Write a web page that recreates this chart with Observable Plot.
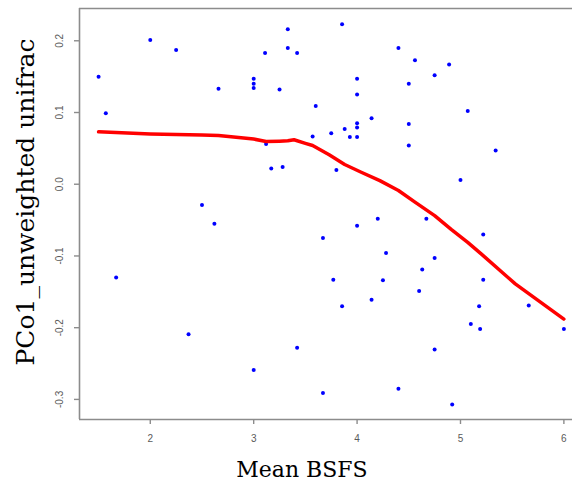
<!DOCTYPE html>
<html>
<head>
<meta charset="utf-8">
<script src="https://cdn.jsdelivr.net/npm/d3@7"></script>
<script src="https://cdn.jsdelivr.net/npm/@observablehq/plot@0.6"></script>
<style>
  html, body { margin: 0; padding: 0; background: #fff; overflow: hidden; }
</style>
</head>
<body>
<div id="chart"></div>
<script>
// Scatter points: Mean BSFS vs PCo1
const bsfs = [1.50,1.57,1.67,2.00,2.25,2.37,2.50,2.62,2.66,3.00,3.00,3.00,3.00,3.11,3.12,3.17,3.25,3.28,3.33,3.33,3.42,3.42,3.57,3.60,3.67,3.67,3.75,3.77,3.80,3.855,3.855,3.88,3.93,4.00,4.00,4.00,4.00,4.00,4.00,4.14,4.14,4.20,4.25,4.28,4.40,4.40,4.50,4.50,4.50,4.56,4.60,4.63,4.67,4.75,4.75,4.75,4.89,4.92,5.00,5.07,5.10,5.18,5.19,5.22,5.22,5.34,5.66,6.00];
const pco1 = [0.150,0.099,-0.130,0.201,0.187,-0.209,-0.029,-0.055,0.133,0.147,0.140,0.134,-0.259,0.183,0.056,0.022,0.132,0.024,0.216,0.190,0.183,-0.228,0.0665,0.109,-0.075,-0.291,0.071,-0.133,0.020,0.223,-0.170,0.077,0.066,0.147,0.125,0.085,0.079,0.066,-0.058,0.092,-0.161,-0.048,-0.134,-0.096,0.190,-0.285,0.140,0.084,0.054,0.173,-0.149,-0.119,-0.048,0.152,-0.103,-0.2305,0.167,-0.307,0.006,0.102,-0.195,-0.170,-0.202,-0.070,-0.133,0.047,-0.169,-0.202];

// Smoothed (lowess) curve
const fitX = [1.5,2.0,2.5,2.66,3.0,3.12,3.25,3.33,3.39,3.5,3.57,3.73,3.88,4.04,4.22,4.40,4.56,4.75,4.91,5.07,5.20,5.53,6.0];
const fitY = [0.073,0.070,0.0685,0.068,0.063,0.0595,0.060,0.0605,0.062,0.057,0.054,0.041,0.0275,0.0167,0.005,-0.0088,-0.025,-0.0437,-0.063,-0.081,-0.097,-0.139,-0.188];

// Ticks
const xTicks = [2,3,4,5,6];
const yTicks = [0.2,0.1,0.0,-0.1,-0.2,-0.3];
const yTickLabels = ["0.2","0.1","0.0","-0.1","-0.2","-0.3"];
const xTitle = "Mean BSFS";
const yTitle = "PCo1_unweighted unifrac";

const xDomain = [1.3155, 6.18];
const yDomain = [-0.328, 0.245];

const points = bsfs.map((x, i) => ({x, y: pco1[i]}));
const fit = fitX.map((x, i) => ({x, y: fitY[i]}));
const yt = yTicks.map((v, i) => ({v, label: yTickLabels[i]}));

const axisColor = "#8c8c8c";
const tickColor = "#5a5a5a";

const chart = Plot.plot({
  width: 572,
  height: 490,
  marginLeft: 79,
  marginRight: -10,
  marginTop: 8,
  marginBottom: 71,
  style: {background: "#fff", overflow: "hidden"},
  x: {domain: xDomain},
  y: {domain: yDomain},
  marks: [
    // box lines: left, top, bottom
    Plot.ruleX([xDomain[0]], {stroke: axisColor, strokeWidth: 1.6}),
    Plot.ruleY([yDomain[1]], {stroke: axisColor, strokeWidth: 1.6}),
    Plot.ruleY([yDomain[0]], {stroke: axisColor, strokeWidth: 1.6}),
    // x axis ticks + labels
    Plot.axisX(xTicks, {tickSize: 5, tickPadding: 10, stroke: axisColor, strokeWidth: 1.4, fontSize: 10, fill: tickColor, fontFamily: "Liberation Sans, Arial, sans-serif", label: null, tickFormat: d => String(d)}),
    // y axis ticks
    Plot.axisY(yTicks, {tickSize: 5, stroke: axisColor, strokeWidth: 1.4, text: null, label: null}),
    Plot.text(yt, {y: "v", text: "label", frameAnchor: "left", dx: -20, rotate: -90, fontSize: 10, fill: tickColor, fontFamily: "Liberation Sans, Arial, sans-serif", lineAnchor: "middle", textAnchor: "middle"}),
    // data
    Plot.dot(points, {x: "x", y: "y", r: 2, fill: "#0000ff", stroke: "none"}),
    Plot.line(fit, {x: "x", y: "y", stroke: "#ff0000", strokeWidth: 3.5, curve: "linear"}),
    // axis titles
    Plot.text([xTitle], {text: d => d, frameAnchor: "bottom", dy: 50, dx: -29, fontSize: 22, fontFamily: "DejaVu Serif, serif", fill: "#000", lineAnchor: "middle"}),
    Plot.text([yTitle], {text: d => d, frameAnchor: "left", dx: -54, dy: -12, rotate: -90, fontSize: 25, fontFamily: "DejaVu Serif, serif", fill: "#000", lineAnchor: "middle", textAnchor: "middle"})
  ]
});
document.getElementById("chart").appendChild(chart);
</script>
</body>
</html>
